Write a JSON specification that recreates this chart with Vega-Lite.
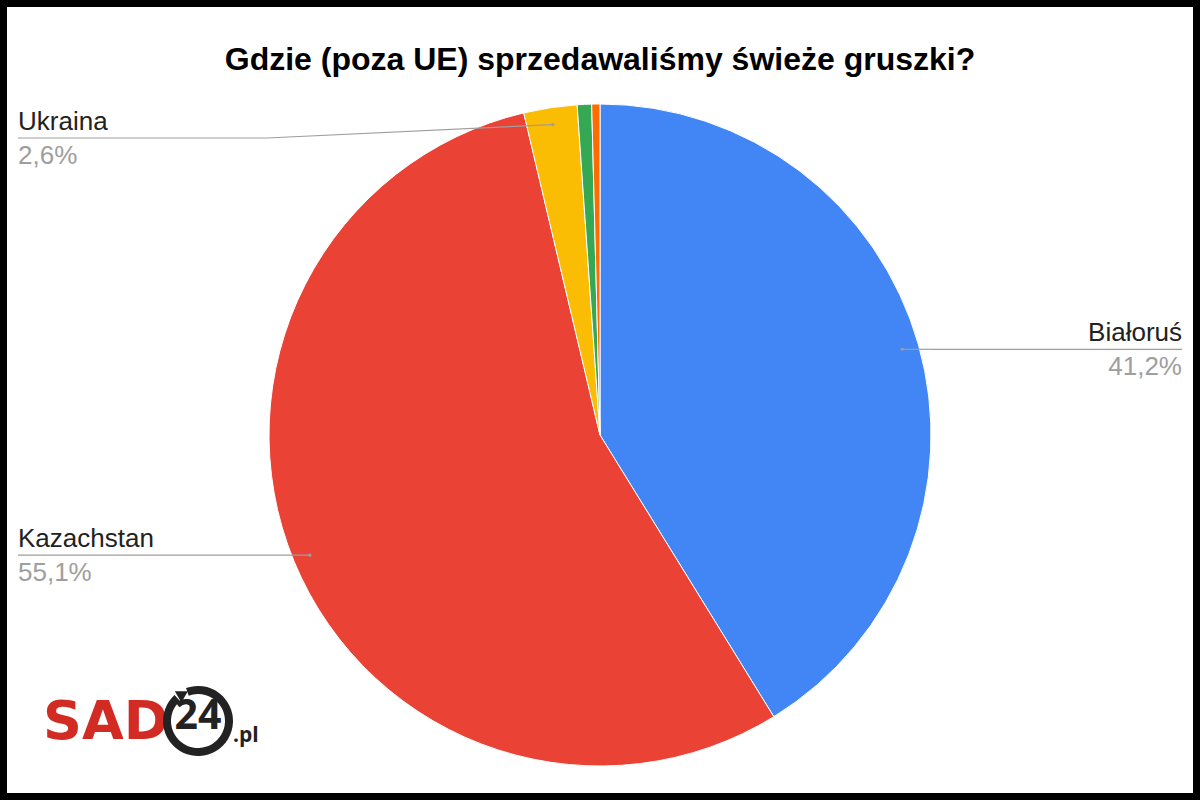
{
  "$schema": "https://vega.github.io/schema/vega-lite/v6.json",
  "width": 1200,
  "height": 800,
  "autosize": {"type": "none"},
  "padding": 0,
  "background": "white",
  "config": {"view": {"stroke": "black", "strokeWidth": 14}},
  "data": {"values": [
    {"kraj": "Białoruś", "udzial": 41.2},
    {"kraj": "Kazachstan", "udzial": 55.1},
    {"kraj": "Ukraina", "udzial": 2.6},
    {"kraj": "Pozostałe 1", "udzial": 0.7},
    {"kraj": "Pozostałe 2", "udzial": 0.4}
  ]},
  "transform": [
    {"window": [{"op": "sum", "field": "udzial", "as": "koniec"}]},
    {"calculate": "datum.koniec - datum.udzial", "as": "poczatek"},
    {"calculate": "(datum.poczatek + datum.koniec) / 100 * PI", "as": "kat"},
    {"calculate": "314 * sin(datum.kat)", "as": "px"},
    {"calculate": "-314 * cos(datum.kat)", "as": "py"},
    {"calculate": "datum.px >= 0 ? 1 : -1", "as": "strona"},
    {"calculate": "max(datum.py, -297)", "as": "ly"},
    {"calculate": "datum.strona * 333", "as": "ex"},
    {"calculate": "datum.strona * 582", "as": "kx"},
    {"calculate": "replace(format(datum.udzial, '.1f'), '.', ',') + '%'", "as": "procent"}
  ],
  "layer": [
    {
      "mark": {"type": "arc", "outerRadius": 331, "stroke": "white", "strokeWidth": 1},
      "encoding": {
        "x": {"datum": 0, "type": "quantitative", "scale": {"domain": [-600, 600], "nice": false, "zero": false}, "axis": null},
        "y": {"datum": 0, "type": "quantitative", "scale": {"domain": [-435, 365], "nice": false, "zero": false, "reverse": true}, "axis": null},
        "theta": {"field": "poczatek", "type": "quantitative", "stack": null, "scale": {"domain": [0, 100]}},
        "theta2": {"field": "koniec"},
        "color": {"field": "kraj", "type": "nominal", "legend": null,
          "scale": {"domain": ["Białoruś", "Kazachstan", "Ukraina", "Pozostałe 1", "Pozostałe 2"],
                    "range": ["#4285F4", "#EA4335", "#FBBC04", "#34A853", "#FF6D01"]}}
      }
    },
    {
      "transform": [{"filter": "datum.udzial >= 1"}],
      "mark": {"type": "rule", "color": "#9E9E9E", "strokeWidth": 1.2},
      "encoding": {
        "x": {"field": "px", "type": "quantitative", "scale": {"domain": [-600, 600], "nice": false, "zero": false}, "axis": null},
        "y": {"field": "py", "type": "quantitative", "scale": {"domain": [-435, 365], "nice": false, "zero": false, "reverse": true}, "axis": null},
        "x2": {"field": "ex"},
        "y2": {"field": "ly"}
      }
    },
    {
      "transform": [{"filter": "datum.udzial >= 1"}],
      "mark": {"type": "rule", "color": "#9E9E9E", "strokeWidth": 1.2},
      "encoding": {
        "x": {"field": "ex", "type": "quantitative", "scale": {"domain": [-600, 600], "nice": false, "zero": false}, "axis": null},
        "y": {"field": "ly", "type": "quantitative", "scale": {"domain": [-435, 365], "nice": false, "zero": false, "reverse": true}, "axis": null},
        "x2": {"field": "kx"}
      }
    },
    {
      "transform": [{"filter": "datum.udzial >= 1"}],
      "mark": {"type": "point", "filled": true, "size": 10, "color": "#9E9E9E", "opacity": 1},
      "encoding": {
        "x": {"field": "px", "type": "quantitative", "scale": {"domain": [-600, 600], "nice": false, "zero": false}, "axis": null},
        "y": {"field": "py", "type": "quantitative", "scale": {"domain": [-435, 365], "nice": false, "zero": false, "reverse": true}, "axis": null}
      }
    },
    {
      "transform": [{"filter": "datum.udzial >= 1 && datum.strona > 0"}],
      "mark": {"type": "text", "align": "right", "baseline": "alphabetic", "dy": -8, "font": "Liberation Sans", "fontSize": 26, "color": "#222222"},
      "encoding": {
        "x": {"field": "kx", "type": "quantitative", "scale": {"domain": [-600, 600], "nice": false, "zero": false}, "axis": null},
        "y": {"field": "ly", "type": "quantitative", "scale": {"domain": [-435, 365], "nice": false, "zero": false, "reverse": true}, "axis": null},
        "text": {"field": "kraj"}
      }
    },
    {
      "transform": [{"filter": "datum.udzial >= 1 && datum.strona < 0"}],
      "mark": {"type": "text", "align": "left", "baseline": "alphabetic", "dy": -8, "font": "Liberation Sans", "fontSize": 26, "color": "#222222"},
      "encoding": {
        "x": {"field": "kx", "type": "quantitative", "scale": {"domain": [-600, 600], "nice": false, "zero": false}, "axis": null},
        "y": {"field": "ly", "type": "quantitative", "scale": {"domain": [-435, 365], "nice": false, "zero": false, "reverse": true}, "axis": null},
        "text": {"field": "kraj"}
      }
    },
    {
      "transform": [{"filter": "datum.udzial >= 1 && datum.strona > 0"}],
      "mark": {"type": "text", "align": "right", "baseline": "alphabetic", "dy": 26, "font": "Liberation Sans", "fontSize": 26, "color": "#9E9E9E"},
      "encoding": {
        "x": {"field": "kx", "type": "quantitative", "scale": {"domain": [-600, 600], "nice": false, "zero": false}, "axis": null},
        "y": {"field": "ly", "type": "quantitative", "scale": {"domain": [-435, 365], "nice": false, "zero": false, "reverse": true}, "axis": null},
        "text": {"field": "procent"}
      }
    },
    {
      "transform": [{"filter": "datum.udzial >= 1 && datum.strona < 0"}],
      "mark": {"type": "text", "align": "left", "baseline": "alphabetic", "dy": 26, "font": "Liberation Sans", "fontSize": 26, "color": "#9E9E9E"},
      "encoding": {
        "x": {"field": "kx", "type": "quantitative", "scale": {"domain": [-600, 600], "nice": false, "zero": false}, "axis": null},
        "y": {"field": "ly", "type": "quantitative", "scale": {"domain": [-435, 365], "nice": false, "zero": false, "reverse": true}, "axis": null},
        "text": {"field": "procent"}
      }
    },
    {
      "data": {"values": [{"t": "Gdzie (poza UE) sprzedawaliśmy świeże gruszki?"}]},
      "mark": {"type": "text", "align": "center", "baseline": "alphabetic", "font": "Liberation Sans", "fontWeight": "bold", "fontSize": 32, "color": "#000000"},
      "encoding": {
        "x": {"datum": 0, "type": "quantitative", "scale": {"domain": [-600, 600], "nice": false, "zero": false}, "axis": null},
        "y": {"datum": -365, "type": "quantitative", "scale": {"domain": [-435, 365], "nice": false, "zero": false, "reverse": true}, "axis": null},
        "text": {"field": "t"}
      }
    },
    {
      "data": {"values": [{"t": "SAD"}]},
      "mark": {"type": "text", "align": "left", "baseline": "alphabetic", "font": "DejaVu Sans", "fontWeight": "bold", "fontSize": 54, "color": "#D22B24"},
      "encoding": {
        "x": {"datum": -557, "type": "quantitative", "scale": {"domain": [-600, 600], "nice": false, "zero": false}, "axis": null},
        "y": {"datum": 304, "type": "quantitative", "scale": {"domain": [-435, 365], "nice": false, "zero": false, "reverse": true}, "axis": null},
        "text": {"field": "t"}
      }
    },
    {
      "data": {"values": [{"t": "ring"}]},
      "mark": {"type": "arc", "theta": -0.35, "theta2": 5.55, "innerRadius": 27, "outerRadius": 35, "color": "#222222"},
      "encoding": {
        "x": {"datum": -402, "type": "quantitative", "scale": {"domain": [-600, 600], "nice": false, "zero": false}, "axis": null},
        "y": {"datum": 286, "type": "quantitative", "scale": {"domain": [-435, 365], "nice": false, "zero": false, "reverse": true}, "axis": null}
      }
    },
    {
      "data": {"values": [{"t": "arrow"}]},
      "mark": {"type": "point", "shape": "triangle-up", "angle": 60, "size": 170, "filled": true, "opacity": 1, "color": "#222222"},
      "encoding": {
        "x": {"datum": -417, "type": "quantitative", "scale": {"domain": [-600, 600], "nice": false, "zero": false}, "axis": null},
        "y": {"datum": 259, "type": "quantitative", "scale": {"domain": [-435, 365], "nice": false, "zero": false, "reverse": true}, "axis": null}
      }
    },
    {
      "data": {"values": [{"t": "24"}]},
      "mark": {"type": "text", "align": "center", "baseline": "alphabetic", "font": "Open Sans", "fontWeight": "bold", "fontSize": 41, "color": "#222222"},
      "encoding": {
        "x": {"datum": -402, "type": "quantitative", "scale": {"domain": [-600, 600], "nice": false, "zero": false}, "axis": null},
        "y": {"datum": 294, "type": "quantitative", "scale": {"domain": [-435, 365], "nice": false, "zero": false, "reverse": true}, "axis": null},
        "text": {"field": "t"}
      }
    },
    {
      "data": {"values": [{"t": ".pl"}]},
      "mark": {"type": "text", "align": "left", "baseline": "alphabetic", "font": "Open Sans", "fontWeight": "bold", "fontSize": 21, "color": "#222222"},
      "encoding": {
        "x": {"datum": -367, "type": "quantitative", "scale": {"domain": [-600, 600], "nice": false, "zero": false}, "axis": null},
        "y": {"datum": 307, "type": "quantitative", "scale": {"domain": [-435, 365], "nice": false, "zero": false, "reverse": true}, "axis": null},
        "text": {"field": "t"}
      }
    }
  ]
}
